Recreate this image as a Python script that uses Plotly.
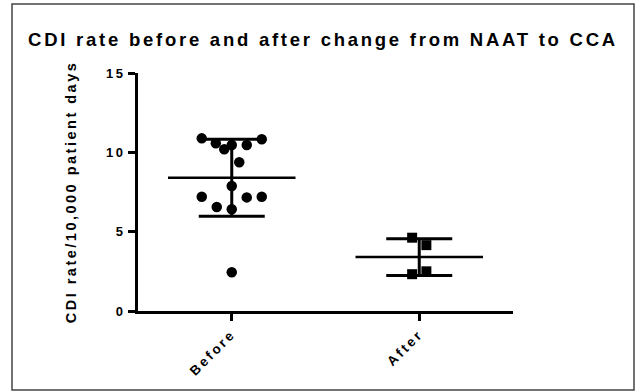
import numpy as np
import plotly.graph_objects as go

# ---- data ----
categories = ["Before", "After"]
before_values = [10.88, 10.82, 10.57, 10.19, 10.46, 10.46, 9.37, 7.88, 7.20, 7.16, 7.20, 6.55, 6.41, 2.44]
after_values = [4.62, 4.15, 2.32, 2.50]
y_ticks = [0, 5, 10, 15]
title_text = "CDI rate before and after change from NAAT to CCA"
y_title_text = "CDI rate/10,000 patient days"

# scatter (column) jitter offsets, in category units
before_jitter = [-0.16, 0.16, -0.085, -0.04, 0.0, 0.08, 0.04, 0.0, -0.16, 0.08, 0.16, -0.08, 0.0, 0.0]
after_jitter = [-0.038, 0.038, -0.038, 0.038]

W, H = 636, 392
ML, MR, MT, MB = 138, 123, 73, 81
PW, PH = W - ML - MR, H - MT - MB

FONT = "Liberation Sans, Arial, sans-serif"


def spaced(t, ls):
    return f'<span style="letter-spacing:{ls}px">{t}</span>'


fig = go.Figure()

groups = [
    (before_values, before_jitter, "circle", 10.5),
    (after_values, after_jitter, "square", 10),
]

for i, (vals, jit, sym, size) in enumerate(groups):
    arr = np.array(vals)
    m = arr.mean()
    sd = arr.std(ddof=1)
    # points
    fig.add_trace(go.Scatter(
        x=[i + j for j in jit], y=vals, mode="markers",
        marker=dict(symbol=sym, size=size, color="black", line=dict(width=0)),
        showlegend=False, hoverinfo="y"))
    # mean line
    fig.add_trace(go.Scatter(
        x=[i - 0.34, i + 0.34], y=[m, m], mode="lines",
        line=dict(color="black", width=2.5), showlegend=False, hoverinfo="skip"))
    # SD error bar
    fig.add_trace(go.Scatter(
        x=[i], y=[m], mode="markers", marker=dict(size=1, color="rgba(0,0,0,0)"),
        error_y=dict(type="data", array=[sd], visible=True, color="black",
                     thickness=3, width=33),
        showlegend=False, hoverinfo="skip"))

# outer frame
fig.add_shape(type="rect", xref="paper", yref="paper",
              x0=(12 - ML) / PW, x1=(634 - ML) / PW,
              y0=(H - MB - 390) / PH, y1=(H - MB - 4) / PH,
              line=dict(color="#444444", width=1.5), fillcolor="rgba(0,0,0,0)",
              layer="below")

fig.update_layout(
    width=W, height=H,
    margin=dict(l=ML, r=MR, t=MT, b=MB),
    paper_bgcolor="white", plot_bgcolor="white",
    font=dict(family=FONT, color="black"),
    title=dict(text="<b>" + spaced(title_text, 2.75) + "</b>",
               x=323 / W, xref="container", xanchor="center",
               y=1 - 40 / H, yref="container", yanchor="middle",
               font=dict(size=18.5, family=FONT, color="black")),
    xaxis=dict(range=[-0.5, 1.5], tickvals=list(range(len(categories))),
               ticktext=["<b>" + spaced(c, 2.6) + "</b>" for c in categories],
               tickangle=-45, showline=True, linewidth=3, linecolor="black",
               ticks="outside", ticklen=7, tickwidth=3, tickcolor="black",
               showgrid=False, zeroline=False,
               tickfont=dict(size=13.5, family=FONT, color="black")),
    yaxis=dict(range=[0, 15], tickvals=y_ticks,
               ticktext=["<b>" + spaced(str(v), 2.5) + "</b>" for v in y_ticks],
               showline=True, linewidth=3, linecolor="black",
               ticks="outside", ticklen=7, tickwidth=3, tickcolor="black",
               showgrid=False, zeroline=False,
               tickfont=dict(size=13, family=FONT, color="black"),
               title=dict(text="<b>" + spaced(y_title_text, 2.5) + "</b>",
                          font=dict(size=14.5, family=FONT, color="black"),
                          standoff=26)),
)

fig.write_html("out.html", config={"displayModeBar": False},
               post_script="document.body.style.margin='0';")
